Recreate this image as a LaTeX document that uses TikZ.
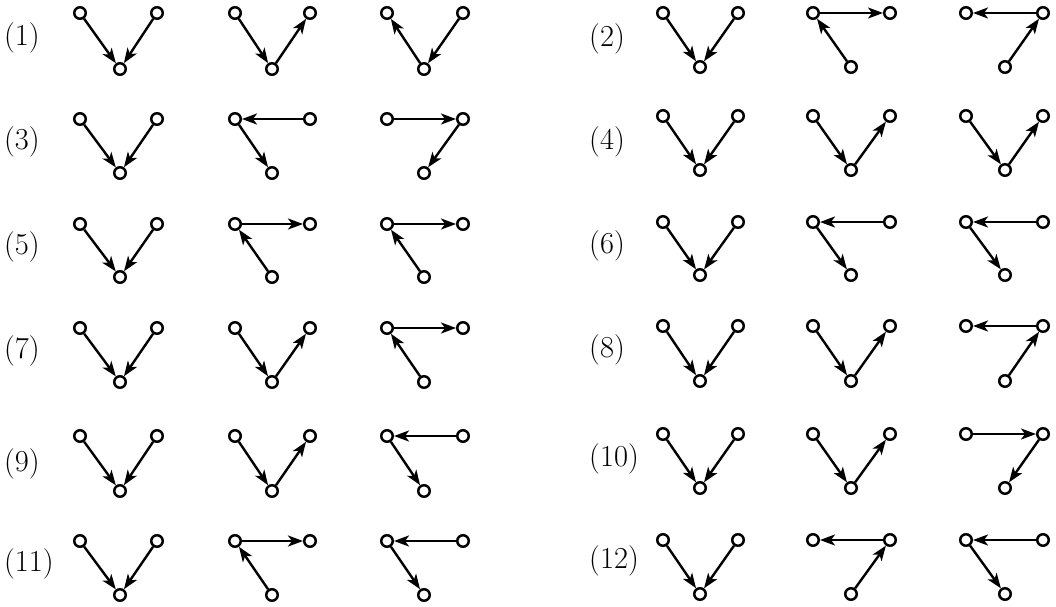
\documentclass[tikz,border=0pt]{standalone}
\usetikzlibrary{arrows.meta}
\tikzset{
  vtx/.style={circle,draw,line width=2.5pt,minimum size=11.5pt,inner sep=0pt,fill=white},
  arr/.style={line width=2.4pt,-{Stealth[length=15pt,width=11pt,inset=4pt]}},
  lbl/.style={anchor=west,inner sep=0pt,font=\fontsize{30.5}{36}\selectfont}
}
\newcommand\tri[7]{%
  \node[vtx] (#1L) at (#2,#5) {};
  \node[vtx] (#1R) at (#3,#5) {};
  \node[vtx] (#1B) at (#4,#6) {};
  \foreach \a/\b in {#7} {\draw[arr] (#1\a) -- (#1\b);}
}
\begin{document}
\begin{tikzpicture}[x=1pt,y=-1pt]
\useasboundingbox (0,0) rectangle (1056,606);
% left column
\node[lbl] (l1) at (4,38) {(1)};
\tri{pAa}{80}{157}{120}{13}{69}{L/B,R/B}
\tri{pAb}{235}{310}{272}{13}{69}{L/B,B/R}
\tri{pAc}{387}{463}{424}{13}{69}{B/L,R/B}
\node[lbl] (l3) at (4,142) {(3)};
\tri{pCa}{80}{157}{120}{119}{173}{L/B,R/B}
\tri{pCb}{235}{310}{272}{119}{173}{R/L,L/B}
\tri{pCc}{387}{463}{424}{119}{173}{L/R,R/B}
\node[lbl] (l5) at (4,247) {(5)};
\tri{pEa}{80}{157}{120}{224}{277}{L/B,R/B}
\tri{pEb}{235}{310}{272}{224}{277}{L/R,B/L}
\tri{pEc}{387}{463}{424}{224}{277}{L/R,B/L}
\node[lbl] (l7) at (4,351) {(7)};
\tri{pGa}{80}{157}{120}{328}{382}{L/B,R/B}
\tri{pGb}{235}{310}{272}{328}{382}{L/B,B/R}
\tri{pGc}{387}{463}{424}{328}{382}{L/R,B/L}
\node[lbl] (l9) at (4,464) {(9)};
\tri{pIa}{80}{157}{120}{436}{491}{L/B,R/B}
\tri{pIb}{235}{310}{272}{436}{491}{L/B,B/R}
\tri{pIc}{387}{463}{424}{436}{491}{R/L,L/B}
\node[lbl] (l11) at (4,564) {(11)};
\tri{pKa}{80}{157}{120}{541}{595}{L/B,R/B}
\tri{pKb}{235}{310}{272}{541}{595}{L/R,B/L}
\tri{pKc}{387}{463}{424}{541}{595}{R/L,L/B}
% right column
\node[lbl] (l2) at (589,39) {(2)};
\tri{pBa}{663}{738}{700}{13}{67}{L/B,R/B}
\tri{pBb}{813}{890}{851}{13}{67}{B/L,L/R}
\tri{pBc}{966}{1043}{1005}{13}{67}{R/L,B/R}
\node[lbl] (l4) at (589,142) {(4)};
\tri{pDa}{663}{738}{700}{116}{170}{L/B,R/B}
\tri{pDb}{813}{890}{851}{116}{170}{L/B,B/R}
\tri{pDc}{966}{1043}{1005}{116}{170}{L/B,B/R}
\node[lbl] (l6) at (589,246) {(6)};
\tri{pFa}{663}{738}{700}{222}{275}{L/B,R/B}
\tri{pFb}{813}{890}{851}{222}{275}{R/L,L/B}
\tri{pFc}{966}{1043}{1005}{222}{275}{R/L,L/B}
\node[lbl] (l8) at (589,350) {(8)};
\tri{pHa}{663}{738}{700}{326}{381}{L/B,R/B}
\tri{pHb}{813}{890}{851}{326}{381}{L/B,B/R}
\tri{pHc}{966}{1043}{1005}{326}{381}{R/L,B/R}
\node[lbl] (l10) at (589,459) {(10)};
\tri{pJa}{663}{738}{700}{434}{488}{L/B,R/B}
\tri{pJb}{813}{890}{851}{434}{488}{L/B,B/R}
\tri{pJc}{966}{1043}{1005}{434}{488}{L/R,R/B}
\node[lbl] (l12) at (589,561) {(12)};
\tri{pLa}{663}{738}{700}{540}{594}{L/B,R/B}
\tri{pLb}{813}{890}{851}{540}{594}{R/L,B/R}
\tri{pLc}{966}{1043}{1005}{540}{594}{R/L,L/B}
\end{tikzpicture}
\end{document}
